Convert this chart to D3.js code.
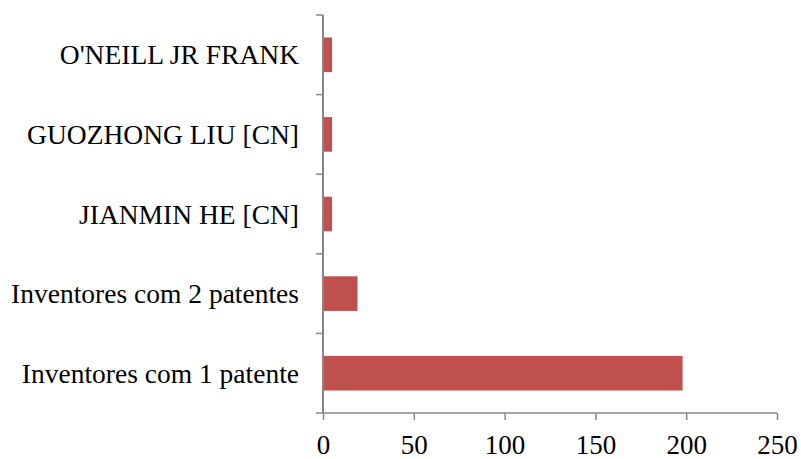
<!DOCTYPE html>
<html>
<head>
<meta charset="utf-8">
<script src="https://cdn.jsdelivr.net/npm/d3@7"></script>
<style>
  html, body { margin: 0; padding: 0; background: #fff; }
  svg text { font-family: "Liberation Serif", "Times New Roman", serif; fill: #000; }
</style>
</head>
<body>
<svg id="chart" width="801" height="459"></svg>
<script>
// Inventors ranked by number of patents (bottom to top)
const categories = [
  "Inventores com 1 patente",
  "Inventores com 2 patentes",
  "JIANMIN HE [CN]",
  "GUOZHONG LIU [CN]",
  "O'NEILL JR FRANK"
];
const values = [198, 19, 5, 5, 5];
const xTicks = [0, 50, 100, 150, 200, 250];

const svg = d3.select("#chart");
const margin = { top: 15, right: 24, bottom: 46, left: 323 };
const W = 801, H = 459;
const innerW = W - margin.left - margin.right;
const innerH = H - margin.top - margin.bottom;
const axisColor = "#868686";
const barColor = "#C0504D";
const fontSize = 27.5;

const g = svg.append("g").attr("transform", `translate(${margin.left},${margin.top})`);

const x = d3.scaleLinear().domain([0, 250]).range([0, innerW]);
// First category sits at the bottom, as in a category axis drawn upward
const y = d3.scaleBand().domain(categories).range([innerH, 0]).padding(0);
const barH = y.bandwidth() * 0.435;

// Bars
g.selectAll("rect.bar")
  .data(categories.map((c, i) => ({ c, v: values[i] })))
  .join("rect")
  .attr("class", "bar")
  .attr("x", x(0) + 1)
  .attr("y", d => y(d.c) + (y.bandwidth() - barH) / 2)
  .attr("width", d => x(d.v) - x(0) - 1)
  .attr("height", barH)
  .attr("fill", barColor);

// X axis
const xAxis = g.append("g")
  .attr("transform", `translate(0,${innerH})`)
  .call(d3.axisBottom(x).tickValues(xTicks).tickSize(7).tickPadding(15).tickFormat(d3.format("d")));
xAxis.select(".domain").attr("stroke", axisColor).attr("stroke-width", 1.5).attr("d", `M0,0H${innerW}`);
xAxis.selectAll(".tick line").attr("stroke", axisColor).attr("stroke-width", 1.5);
xAxis.selectAll(".tick text").attr("font-size", 27).attr("font-family", "Liberation Serif").attr("dy", "0.71em");

// Y axis: line plus ticks on category boundaries
const yAxis = g.append("g");
yAxis.append("line")
  .attr("x1", 0).attr("x2", 0).attr("y1", 0).attr("y2", innerH)
  .attr("stroke", axisColor).attr("stroke-width", 2);
const boundaries = categories.map(c => y(c)).concat([innerH]);
yAxis.selectAll("line.tk")
  .data(boundaries)
  .join("line")
  .attr("class", "tk")
  .attr("x1", -7).attr("x2", 0)
  .attr("y1", d => d).attr("y2", d => d)
  .attr("stroke", axisColor).attr("stroke-width", 1.5);
yAxis.selectAll("text")
  .data(categories)
  .join("text")
  .attr("x", -24)
  .attr("y", d => y(d) + y.bandwidth() / 2)
  .attr("dy", "0.35em")
  .attr("text-anchor", "end")
  .attr("font-size", fontSize)
  .text(d => d);
</script>
</body>
</html>
